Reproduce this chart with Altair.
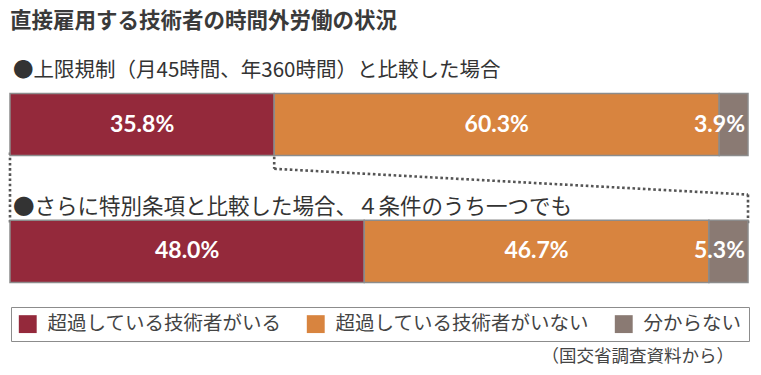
import altair as alt
import pandas as pd

title_text = "直接雇用する技術者の時間外労働の状況"
subtitles = ["●上限規制（月45時間、年360時間）と比較した場合",
             "●さらに特別条項と比較した場合、４条件のうち一つでも"]
groups = ["上限規制", "特別条項"]
categories = ["超過している技術者がいる", "超過している技術者がいない", "分からない"]
values_limit = [35.8, 60.3, 3.9]
values_special = [48.0, 46.7, 5.3]
colors = ["#94293b", "#d8843f", "#8a7a73"]
source_text = "（国交省調査資料から）"

JP = "Noto Sans CJK JP"

rows = []
for r, (g, vals) in enumerate(zip(groups, [values_limit, values_special])):
    start = 0.0
    for i, (c, v) in enumerate(zip(categories, vals)):
        rows.append(dict(group=g, row=r, category=c, idx=i, value=v, start=start,
                         end=start + v, mid=start + v / 2, label=f"{v:.1f}%"))
        start += v
df = pd.DataFrame(rows)

xscale = alt.Scale(domain=[0, 100], range=[2, 740], nice=False, zero=False)
yscale = alt.Scale(domain=[0, 1], range=[111.5, 248.3], nice=False, zero=False)

bars = alt.Chart(df).mark_bar(stroke="#8c8c8c", strokeWidth=1.5, height=62.2).encode(
    x=alt.X("start:Q", scale=xscale, axis=None),
    x2="end:Q",
    y=alt.Y("row:Q", scale=yscale, axis=None),
    color=alt.Color("category:N",
                    scale=alt.Scale(domain=categories, range=colors),
                    legend=alt.Legend(orient="none", legendX=3, legendY=299,
                                      direction="horizontal", title=None,
                                      symbolType="square", symbolSize=320,
                                      symbolStrokeWidth=0, symbolOpacity=1,
                                      labelFontSize=19.5, labelFont=JP,
                                      labelColor="#444444", labelOffset=10,
                                      columnPadding=24, labelLimit=400,
                                      padding=7, strokeColor="#8c8c8c",
                                      fillColor="white")),
)

lab_center = alt.Chart(df).transform_filter("datum.idx < 2").mark_text(
    color="white", font="Lato", fontWeight="bold", fontSize=23,
    align="center", baseline="middle"
).encode(x=alt.X("mid:Q", scale=xscale, axis=None),
         y=alt.Y("row:Q", scale=yscale, axis=None),
         text="label:N")

lab_right = alt.Chart(df).transform_filter("datum.idx == 2").mark_text(
    color="white", font="Lato", fontWeight="bold", fontSize=23,
    align="right", baseline="middle", dx=-3
).encode(x=alt.X("end:Q", scale=xscale, axis=None),
         y=alt.Y("row:Q", scale=yscale, axis=None),
         text="label:N")

boundary = values_limit[0]
dash = dict(color="#555555", strokeWidth=2.6, strokeDash=[2.6, 2.6])

def vrule(xv, y1, y2):
    return alt.Chart(pd.DataFrame({"cx": [xv]})).mark_rule(**dash).encode(
        x=alt.X("cx:Q", scale=xscale, axis=None), y=alt.value(y1), y2=alt.value(y2))

conn_left = vrule(0, 144.5, 214.4)
conn_mid = vrule(boundary, 143.5, 160.8)
conn_right = vrule(100, 186.6, 216.3)
conn_slant = alt.Chart(pd.DataFrame({"cx": [boundary], "cx2": [100]})).mark_rule(**dash).encode(
    x=alt.X("cx:Q", scale=xscale, axis=None), x2="cx2:Q",
    y=alt.value(160.8), y2=alt.value(186.6))

def txt(t, x, y, size, align="left", weight="normal", color="#333333"):
    return alt.Chart(pd.DataFrame({"t": [t]})).mark_text(
        font=JP, fontSize=size, fontWeight=weight, color=color,
        align=align, baseline="middle"
    ).encode(text="t:N", x=alt.value(x), y=alt.value(y))

title = txt(title_text, 2, 13.5, 21.5, weight="bold", color="#3a3a3a")
sub1 = txt(subtitles[0], 5, 62.5, 20.5)
sub2 = txt(subtitles[1], 5, 200, 21.5)
src = txt(source_text, 726, 348.5, 17.5, align="right", color="#444444")

chart = alt.layer(
    conn_left, conn_mid, conn_slant, conn_right,
    bars, lab_center, lab_right, title, sub1, sub2, src
).properties(
    width=745, height=359, padding=0,
    autosize=alt.AutoSizeParams(type="none")
).configure_view(stroke=None)

chart.save("out.html", embed_options={"renderer": "svg", "actions": False})
